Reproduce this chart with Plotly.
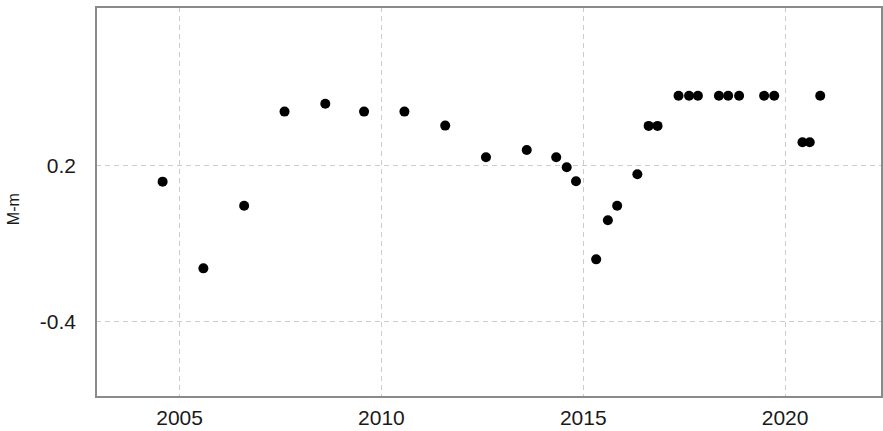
import plotly.graph_objects as go

years = [2004.58, 2005.59, 2006.60, 2007.60, 2008.61, 2009.57, 2010.57, 2011.58,
         2012.59, 2013.60, 2014.33, 2014.59, 2014.82, 2015.32, 2015.61, 2015.84,
         2016.34, 2016.62, 2016.84, 2017.36, 2017.62, 2017.84, 2018.36, 2018.59,
         2018.86, 2019.48, 2019.73, 2020.43, 2020.61, 2020.87]
mag_diff = [-0.2206, -0.3321, -0.2515, -0.1305, -0.1205, -0.1305, -0.1305, -0.1485,
            -0.1892, -0.1798, -0.1892, -0.2020, -0.2201, -0.3205, -0.2703, -0.2515,
            -0.2111, -0.1489, -0.1489, -0.1102, -0.1102, -0.1102, -0.1102, -0.1102,
            -0.1102, -0.1102, -0.1102, -0.1699, -0.1699, -0.1102]

x_ticks = [2005, 2010, 2015, 2020]
x_tick_labels = ["2005", "2010", "2015", "2020"]
y_ticks = [-0.2, -0.4]
y_tick_labels = ["0.2", "-0.4"]

fam = "Liberation Sans, Arial, sans-serif"
font = dict(family=fam, size=21, color="#1a1a1a")

fig = go.Figure()
fig.add_trace(go.Scatter(
    x=years, y=mag_diff, mode="markers",
    marker=dict(color="black", size=10, line=dict(width=0)),
    showlegend=False,
))

fig.update_layout(
    width=883, height=431,
    margin=dict(l=96, r=1, t=7, b=34, autoexpand=False),
    paper_bgcolor="white", plot_bgcolor="white",
    font=font,
    xaxis=dict(
        range=[2002.93, 2022.40],
        tickvals=x_ticks, ticktext=x_tick_labels,
        showgrid=True, gridcolor="#cccccc", griddash="5px,4px", gridwidth=1,
        zeroline=False, showline=False, ticks="", ticklabelstandoff=6,
    ),
    yaxis=dict(
        range=[-0.4975, 0.004],
        tickvals=y_ticks, ticktext=y_tick_labels,
        showgrid=True, gridcolor="#cccccc", griddash="5px,4px", gridwidth=1,
        zeroline=False, showline=False, ticks="", ticklabelstandoff=19,
    ),
    shapes=[dict(type="rect", xref="paper", yref="paper", x0=0, y0=0, x1=1, y1=1,
                 line=dict(color="#8a8a8a", width=2), layer="above")],
    annotations=[dict(text="M-m", xref="paper", yref="paper",
                      x=(13 - 96) / 786, y=(396.7 - 209) / 389.7,
                      xanchor="center", yanchor="middle",
                      showarrow=False, textangle=-90,
                      font=dict(size=16, family=fam, color="#1a1a1a"))],
)

fig.write_html("out.html", config={"displayModeBar": False},
               post_script="document.body.style.margin='0';document.body.style.padding='0';")
